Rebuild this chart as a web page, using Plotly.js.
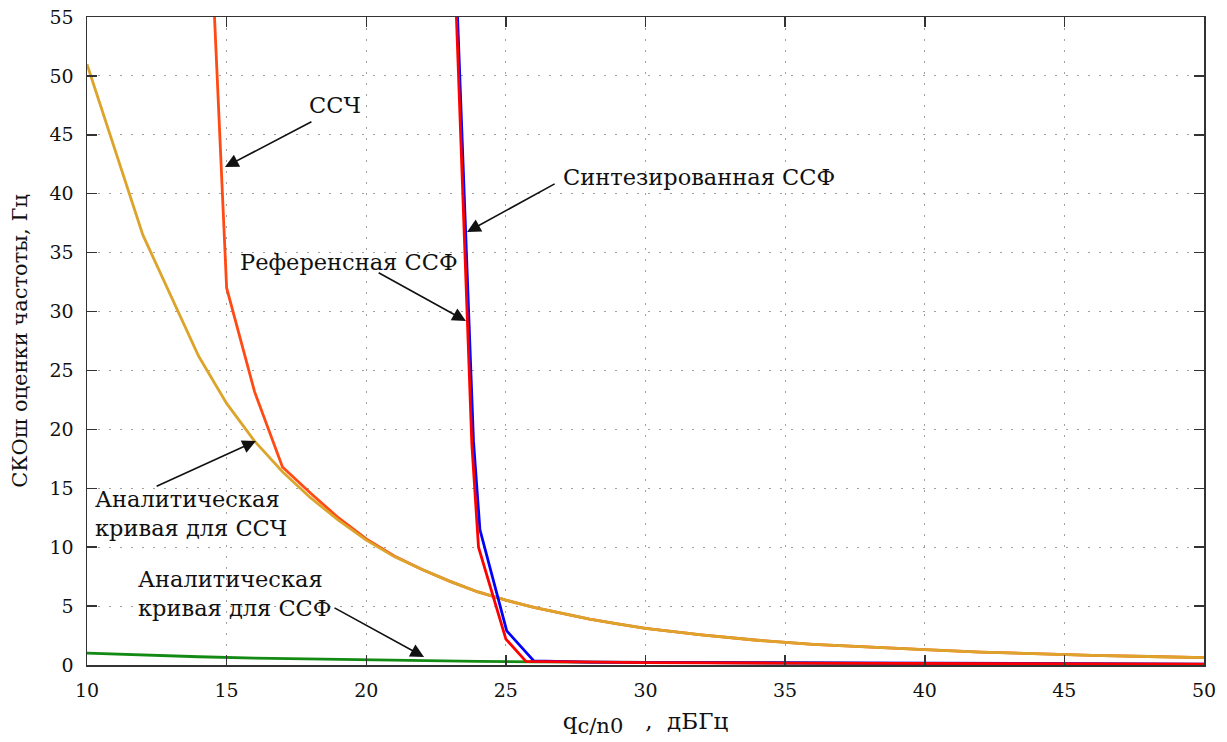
<!DOCTYPE html>
<html>
<head>
<meta charset="utf-8">
<script src="https://cdn.plot.ly/plotly-3.0.1.min.js"></script>
<style>
  html, body { margin: 0; padding: 0; background: #fff; }
  #chart { width: 1227px; height: 742px; }
</style>
</head>
<body>
<div id="chart"></div>
<script>
// Frequency estimate RMS error vs. carrier-to-noise density ratio

// Analytic curve for the frequency tracking loop (ССЧ)
const xAnalyticFLL = [10, 12, 14, 15, 16, 17, 18, 19, 20, 21, 22, 23, 24, 25, 26, 27, 28, 29, 30, 32, 34, 36, 38, 40, 42, 44, 46, 48, 50];
const yAnalyticFLL = [51.0, 36.5, 26.2, 22.2, 19.0, 16.4, 14.2, 12.3, 10.6, 9.2, 8.1, 7.1, 6.2, 5.5, 4.9, 4.4, 3.9, 3.5, 3.1, 2.55, 2.1, 1.75, 1.5, 1.3, 1.1, 0.95, 0.82, 0.72, 0.62];

// Simulated frequency tracking loop (ССЧ)
const xFLL = [14, 15, 16, 17, 18, 19, 20, 21, 22, 23, 24, 25, 26, 27, 28, 29, 30, 32, 34, 36, 38, 40, 42, 44, 46, 48, 50];
const yFLL = [85, 32.0, 23.2, 16.8, 14.6, 12.5, 10.7, 9.25, 8.1, 7.1, 6.2, 5.5, 4.9, 4.4, 3.9, 3.5, 3.1, 2.55, 2.1, 1.75, 1.5, 1.3, 1.1, 0.95, 0.82, 0.72, 0.62];

// Analytic curve for the phase tracking loop (ССФ)
const xAnalyticPLL = [10, 12, 14, 16, 18, 20, 22, 24, 26, 28, 30, 35, 40, 45, 50];
const yAnalyticPLL = [1.0, 0.83, 0.7, 0.58, 0.5, 0.42, 0.36, 0.31, 0.27, 0.24, 0.21, 0.15, 0.11, 0.08, 0.06];

// Synthesized phase tracking loop (ССФ)
const xSynthPLL = [23.0, 23.84, 24.07, 25.03, 26.0, 28, 30, 35, 40, 45, 50];
const ySynthPLL = [72, 19.0, 11.5, 2.9, 0.35, 0.25, 0.22, 0.17, 0.13, 0.1, 0.08];

// Reference phase tracking loop (ССФ)
const xRefPLL = [23.0, 23.78, 24.02, 25.0, 25.72, 28, 30, 35, 40, 45, 50];
const yRefPLL = [70, 18.8, 10.0, 2.2, 0.3, 0.24, 0.21, 0.16, 0.12, 0.09, 0.07];

const xTicks = [10, 15, 20, 25, 30, 35, 40, 45, 50];
const yTicks = [0, 5, 10, 15, 20, 25, 30, 35, 40, 45, 50, 55];

const serif = '"DejaVu Serif", "Liberation Serif", serif';

const traces = [
  { x: xAnalyticPLL, y: yAnalyticPLL, mode: 'lines', line: { color: '#138a13', width: 2.8 }, name: 'Аналитическая кривая для ССФ' },
  { x: xFLL, y: yFLL, mode: 'lines', line: { color: '#ff4a14', width: 2.8 }, name: 'ССЧ' },
  { x: xAnalyticFLL, y: yAnalyticFLL, mode: 'lines', line: { color: '#dca42a', width: 2.8 }, name: 'Аналитическая кривая для ССЧ' },
  { x: xSynthPLL, y: ySynthPLL, mode: 'lines', line: { color: '#0000ff', width: 2.8 }, name: 'Синтезированная ССФ' },
  { x: xRefPLL, y: yRefPLL, mode: 'lines', line: { color: '#ff0000', width: 2.8 }, name: 'Референсная ССФ' }
];

const textFont = { family: serif, size: 22.5, color: '#111' };

function label(text, x, y, xanchor) {
  return { x: x, y: y, xref: 'x', yref: 'y', text: text, showarrow: false,
           font: textFont, xanchor: xanchor || 'center', yanchor: 'middle', align: 'left' };
}
function arrow(tailX, tailY, headX, headY) {
  return { x: headX, y: headY, ax: tailX, ay: tailY, xref: 'x', yref: 'y', axref: 'x', ayref: 'y',
           text: '', showarrow: true, arrowhead: 2, arrowsize: 1.7, arrowwidth: 1.6, arrowcolor: '#111',
           standoff: 0, startstandoff: 0 };
}

const annotations = [
  label('ССЧ', 18.88, 47.5),
  arrow(18.09, 46.17, 14.94, 42.27),
  label('Синтезированная ССФ', 31.92, 41.4),
  arrow(26.80, 40.91, 23.61, 36.75),
  label('Референсная ССФ', 19.38, 34.2),
  arrow(20.39, 33.36, 23.57, 29.2),
  label('Аналитическая<br>кривая для ССЧ', 10.22, 12.82, 'left'),
  arrow(12.44, 15.11, 16.05, 19.01),
  label('Аналитическая<br>кривая для ССФ', 11.76, 6.11, 'left'),
  arrow(18.81, 4.92, 22.07, 0.68)
];

const axisCommon = {
  showline: true, linecolor: '#333', linewidth: 1.5, mirror: 'ticks',
  ticks: 'inside', ticklen: 10, tickwidth: 1.5, tickcolor: '#333',
  showgrid: true, gridcolor: '#a0a0a0', gridwidth: 1, griddash: '2px,9px',
  zeroline: false, tickfont: { family: serif, size: 19, color: '#111' }
};

const layout = {
  width: 1227, height: 742,
  margin: { l: 87, r: 23, t: 17, b: 77 },
  paper_bgcolor: '#fff', plot_bgcolor: '#fff',
  showlegend: false,
  xaxis: Object.assign({}, axisCommon, {
    range: [10, 50], tickvals: xTicks, ticktext: xTicks.map(String), ticklabelstandoff: 8,
    title: { text: '    q<sub><span style="font-size:21px">c/n0</span></sub>   ,  дБГц',
             font: { family: serif, size: 23, color: '#111' }, standoff: 12 }
  }),
  yaxis: Object.assign({}, axisCommon, {
    range: [0, 55], tickvals: yTicks, ticktext: yTicks.map(String), ticklabelstandoff: 8,
    title: { text: 'СКОш оценки частоты, Гц', font: { family: serif, size: 21, color: '#111' }, standoff: 16 }
  }),
  annotations: annotations
};

Plotly.newPlot('chart', traces, layout, { displayModeBar: false, staticPlot: true });
</script>
</body>
</html>
